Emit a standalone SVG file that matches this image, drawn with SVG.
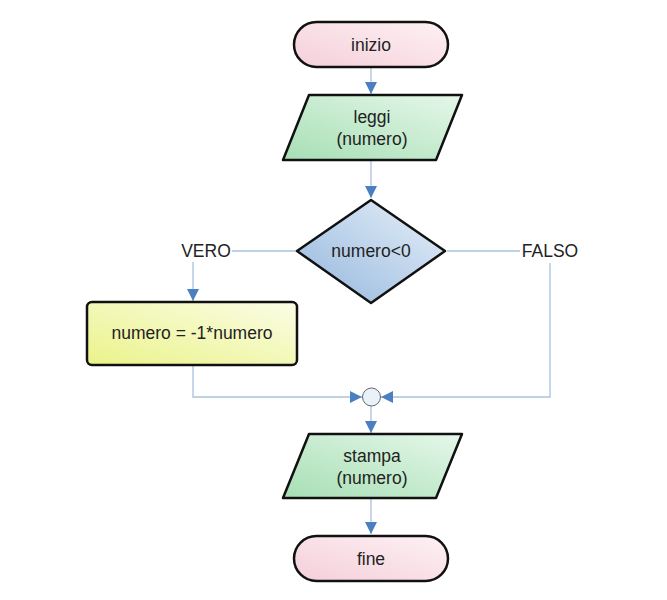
<svg xmlns="http://www.w3.org/2000/svg" width="667" height="600" viewBox="0 0 667 600">
<style>
.shape{stroke:#111;stroke-width:2.5;stroke-linejoin:round}
.lbl{font-family:"Liberation Sans",Arial,sans-serif;font-size:17.5px;fill:#222;text-anchor:middle;dominant-baseline:central}
.conn{fill:none;stroke:#a9c2dd;stroke-width:1.3}
</style>
<defs>
<linearGradient id="gPink" x1="0" y1="1" x2="1" y2="0"><stop offset="0" stop-color="#f5cfd9"/><stop offset="1" stop-color="#fdf1f4"/></linearGradient>
<linearGradient id="gGreen" x1="0" y1="1" x2="1" y2="0"><stop offset="0" stop-color="#a6dfb4"/><stop offset="1" stop-color="#e6f7ea"/></linearGradient>
<linearGradient id="gBlue" x1="0" y1="1" x2="1" y2="0"><stop offset="0" stop-color="#93b6dc"/><stop offset="1" stop-color="#e8f1fa"/></linearGradient>
<linearGradient id="gYellow" x1="0" y1="1" x2="1" y2="0"><stop offset="0" stop-color="#eaf38a"/><stop offset="1" stop-color="#fbfde6"/></linearGradient>
<marker id="arr" viewBox="0 0 10 10" refX="10" refY="5" markerWidth="12" markerHeight="12" markerUnits="userSpaceOnUse" orient="auto"><path d="M0,0 L10,5 L0,10 z" fill="#4a80c2"/></marker>
</defs>
<rect width="667" height="600" fill="#fff"/>
<g id="connectors">
<line class="conn" x1="371" y1="67" x2="371" y2="94" marker-end="url(#arr)"/>
<line class="conn" x1="371" y1="161" x2="371" y2="198" marker-end="url(#arr)"/>
<line class="conn" x1="296" y1="251" x2="232" y2="251"/>
<line class="conn" x1="193" y1="262" x2="193" y2="301" marker-end="url(#arr)"/>
<line class="conn" x1="447" y1="251" x2="520" y2="251"/>
<polyline class="conn" points="193,366 193,397 362,397" marker-end="url(#arr)"/>
<polyline class="conn" points="550,263 550,397 381,397" marker-end="url(#arr)"/>
<line class="conn" x1="371" y1="406" x2="371" y2="433" marker-end="url(#arr)"/>
<line class="conn" x1="371" y1="499" x2="371" y2="534" marker-end="url(#arr)"/>
<text class="lbl" x="206" y="251">VERO</text>
<text class="lbl" x="550" y="251">FALSO</text>
</g>
<g id="inizio">
<rect class="shape" x="294" y="22" width="154" height="45" rx="22.5" fill="url(#gPink)"/>
<text class="lbl" x="371" y="44.5">inizio</text>
</g>
<g id="leggi">
<path class="shape" d="M309,95 L462,95 L436,160 L283,160 Z" fill="url(#gGreen)"/>
<text class="lbl" x="372" y="117">leggi</text>
<text class="lbl" x="372" y="139">(numero)</text>
</g>
<g id="decisione">
<path class="shape" d="M371,200 L445,251 L371,303 L297,251 Z" fill="url(#gBlue)"/>
<text class="lbl" x="371" y="251">numero&lt;0</text>
</g>
<g id="assegna">
<rect class="shape" x="87" y="302" width="210" height="63" rx="5" fill="url(#gYellow)"/>
<text class="lbl" x="192" y="333">numero = -1*numero</text>
</g>
<g id="giunzione">
<circle cx="371.5" cy="397" r="9" fill="#e9f1f9" stroke="#666" stroke-width="1"/>
</g>
<g id="stampa">
<path class="shape" d="M309,434 L462,434 L436,498 L283,498 Z" fill="url(#gGreen)"/>
<text class="lbl" x="372" y="456">stampa</text>
<text class="lbl" x="372" y="478">(numero)</text>
</g>
<g id="fine">
<rect class="shape" x="294" y="536" width="154" height="45" rx="22.5" fill="url(#gPink)"/>
<text class="lbl" x="371" y="558.5">fine</text>
</g>
</svg>
